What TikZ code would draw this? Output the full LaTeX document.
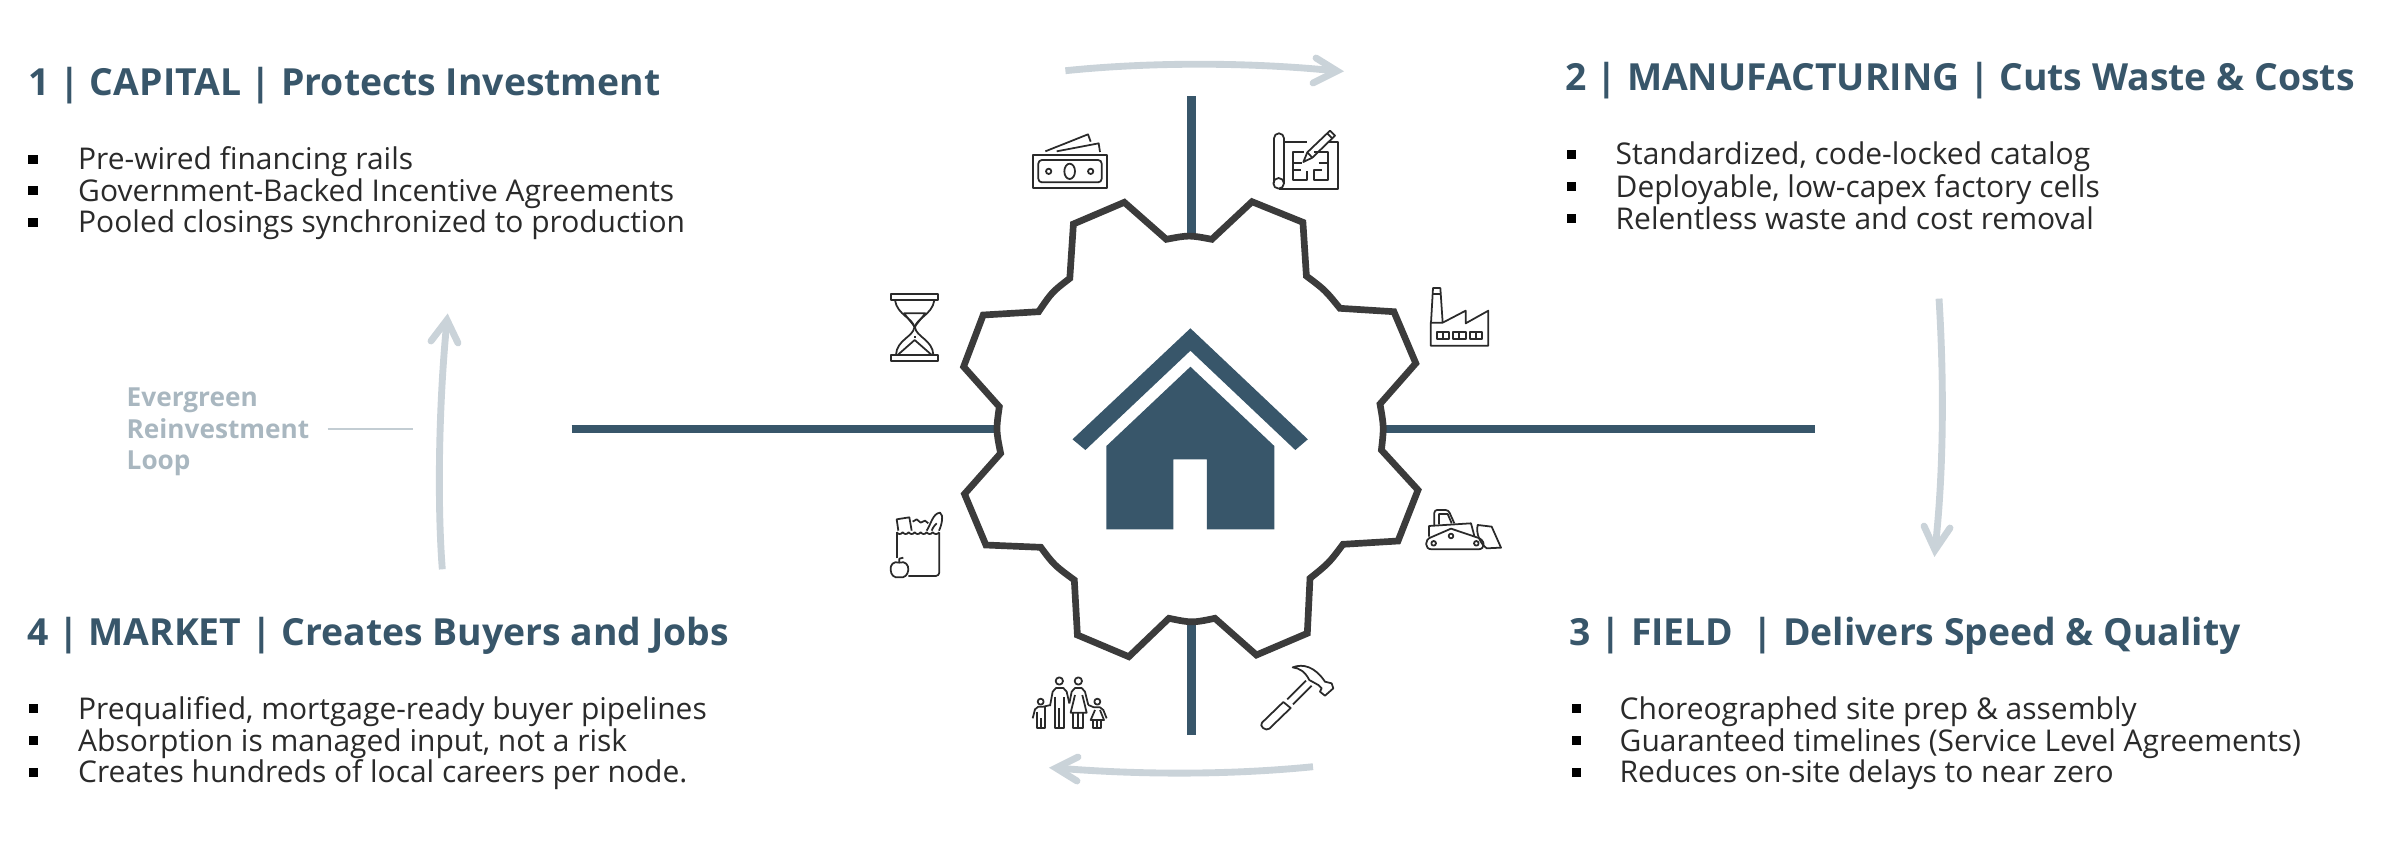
\documentclass[tikz,border=0pt]{standalone}
\usepackage{fontspec}
\setmainfont{Open Sans}
\usepackage{tikz}
\usetikzlibrary{positioning}
\usetikzlibrary{calc}

\definecolor{slate}{HTML}{38566A}
\definecolor{geargray}{HTML}{3B3B3B}
\definecolor{loopgray}{HTML}{CAD3D9}
\definecolor{notegray}{HTML}{A9B7C0}
\definecolor{inkgray}{HTML}{2A2A2A}

\tikzset{
  stagehead/.style={anchor=base west, inner sep=0pt, text=slate, font=\fontsize{10.62pt}{12pt}\selectfont\bfseries},
  stageitem/.style={anchor=base west, inner sep=0pt, text=inkgray, font=\fontsize{8.52pt}{10pt}\selectfont},
  itembox/.style={fill=black, inner sep=0pt, minimum width=0.09cm, minimum height=0.09cm},
  spoke/.style={draw=slate, line width=2.5pt},
  gearline/.style={draw=geargray, line width=1.9pt, fill=white, miter limit=10},
  loopline/.style={draw=loopgray, line width=1.95pt},
  loophead/.style={draw=loopgray, line width=1.95pt, line cap=round, miter limit=10},
  iconline/.style={draw=inkgray, line width=0.5pt, line join=round},
}

\begin{document}
\begin{tikzpicture}[x=0.01cm, y=-0.01cm]
        \useasboundingbox (0,0) rectangle (2400,857);

        % Spokes
        \coordinate (LeftOut) at (571.5,429);
        \coordinate (LeftIn) at (1000,429);
        \coordinate (RightIn) at (1380,429);
        \coordinate (RightOut) at (1815,429);
        \coordinate (TopOut) at (1191.5,96);
        \coordinate (TopIn) at (1191.5,242);
        \coordinate (BotIn) at (1191.5,618);
        \coordinate (BotOut) at (1191.5,735);

        \draw[spoke] (LeftOut) -- (LeftIn);
        \draw[spoke] (RightIn) -- (RightOut);
        \draw[spoke] (TopOut) -- (TopIn);
        \draw[spoke] (BotIn) -- (BotOut);

        % Gear
        \draw[gearline] (999.3,406.7) -- (963.6,366.7) -- (983.2,315) -- (1038.6,311.7)
            .. controls (1052,292) .. (1069.8,278.3) -- (1073.4,224) -- (1124.3,202.3) -- (1166.3,239.3)
            .. controls (1189,235) .. (1211.8,239.3) -- (1252,201.7) -- (1302.9,222.3) -- (1306.4,276)
            .. controls (1325,290) .. (1339.9,308.3) -- (1393.9,311.7) -- (1415.8,363.3) -- (1380,404)
            .. controls (1384,427) .. (1381.4,450) -- (1418,490) -- (1398,541) -- (1343,544.3)
            .. controls (1329,563) .. (1310,578.3) -- (1307.3,633.3) -- (1256.4,655) -- (1214.9,618.3)
            .. controls (1192,623) .. (1168.9,618.3) -- (1128.8,656.7) -- (1077.4,635) -- (1074.3,580)
            .. controls (1054,565) .. (1040.8,547.3) -- (985.9,545) -- (964.5,494) -- (1000.6,453.3)
            .. controls (996,430) .. cycle;

        % House
        \fill[slate] (1190.4,328.3) -- (1307.8,439.3) -- (1295.3,450) -- (1190.4,350.7) -- (1085.4,450) -- (1072.5,439.3) -- cycle;
        \fill[slate] (1190.4,366.7) -- (1274.3,446) -- (1274.3,529.3) -- (1206.9,529.3) -- (1206.9,459.3) -- (1173.4,459.3) -- (1173.4,529.3) -- (1106.4,529.3) -- (1106.4,446) -- cycle;

        % Loop arrows
        \coordinate (TopA) at (1065.4,70.7);
        \coordinate (TopB) at (1337,71);
        \coordinate (RightA) at (1939,298.6);
        \coordinate (RightB) at (1935,550);
        \coordinate (BotA) at (1313,766.7);
        \coordinate (BotB) at (1056,768);
        \coordinate (LeftA) at (442.3,569.3);
        \coordinate (LeftB) at (447,320);

        \draw[loopline] (TopA) .. controls (1150,62) and (1250,62) .. (TopB);
        \draw[loophead] (1316,58) -- (TopB) -- (1313,83);
        \draw[loopline] (RightA) .. controls (1944,380) and (1944,470) .. (RightB);
        \draw[loophead] (1924,526) -- (RightB) -- (1950,528);
        \draw[loopline] (BotA) .. controls (1230,775) and (1140,775) .. (BotB);
        \draw[loophead] (1078,757) -- (BotB) -- (1077,781);
        \draw[loopline] (LeftA) .. controls (437,500) and (439,400) .. (LeftB);
        \draw[loophead] (431,341) -- (LeftB) -- (458,343);

        % Side note
        \node[anchor=west, inner sep=0pt, align=left, text=notegray, font=\fontsize{7.45pt}{8.96pt}\selectfont\bfseries] (loopnote) at (126,432) {Evergreen\\Reinvestment\\Loop};
        \coordinate (NoteA) at (327.7,429);
        \coordinate (NoteB) at (412.7,429);
        \draw[draw=notegray!70, line width=0.6pt] (NoteA) -- (NoteB);

        % Stage 1
        \node[stagehead] (head1) at (28,95) {1 | CAPITAL | Protects Investment};
        \node[itembox] (mark11) at (33,159) {};
        \node[itembox] (mark12) at (33,190.7) {};
        \node[itembox] (mark13) at (33,222.3) {};
        \node[stageitem] (item11) at (77.5,169.3) {Pre-wired financing rails};
        \node[stageitem] (item12) at (77.5,201) {Government-Backed Incentive Agreements};
        \node[stageitem] (item13) at (77.5,232.7) {Pooled closings synchronized to production};

        % Stage 2
        \node[stagehead] (head2) at (1565,90.7) {2 | MANUFACTURING | Cuts Waste \& Costs};
        \node[itembox] (mark21) at (1571.5,154.5) {};
        \node[itembox] (mark22) at (1571.5,186.6) {};
        \node[itembox] (mark23) at (1571.5,218.6) {};
        \node[stageitem] (item21) at (1615,164.5) {Standardized, code-locked catalog};
        \node[stageitem] (item22) at (1615,197) {Deployable, low-capex factory cells};
        \node[stageitem] (item23) at (1615,229) {Relentless waste and cost removal};

        % Stage 3
        \node[stagehead] (head3) at (1569,645) {3 | FIELD\ \ | Delivers Speed \& Quality};
        \node[itembox] (mark31) at (1576,708) {};
        \node[itembox] (mark32) at (1576,740.7) {};
        \node[itembox] (mark33) at (1576,772) {};
        \node[stageitem] (item31) at (1619,719) {Choreographed site prep \& assembly};
        \node[stageitem] (item32) at (1619,751) {Guaranteed timelines (Service Level Agreements)};
        \node[stageitem] (item33) at (1619,782.7) {Reduces on-site delays to near zero};

        % Stage 4
        \node[stagehead] (head4) at (26.5,645) {4 | MARKET | Creates Buyers and Jobs};
        \node[itembox] (mark41) at (33.5,708) {};
        \node[itembox] (mark42) at (33.5,740.7) {};
        \node[itembox] (mark43) at (33.5,772) {};
        \node[stageitem] (item41) at (77.5,719) {Prequalified, mortgage-ready buyer pipelines};
        \node[stageitem] (item42) at (77.5,751) {Absorption is managed input, not a risk};
        \node[stageitem] (item43) at (77.5,782.7) {Creates hundreds of local careers per node.};

        % Money and blueprint
        \begin{scope}[shift={(1020,120)}, scale=0.3333, iconline]
        \draw (40,104) rectangle (260,203);
        \draw[rounded corners=1pt] (55,120) rectangle (245,187);
        \draw (149,154) ellipse [x radius=16, y radius=23];
        \draw (86,154) circle [radius=8];
        \draw (212,154) circle [radius=8];
        \draw (110,94) -- (236,70) -- (240,96);
        \draw (76,94) -- (204,43) -- (212,65);

        \draw[rounded corners=1.4pt] (762,190) -- (762,40) -- (792,40) -- (792,190);
        \draw (776,190) circle [radius=16];
        \draw (792,66) -- (862,66);
        \draw (925,66) -- (953,66) -- (953,207) -- (776,207);
        \draw (850,126) -- (862,97) -- (930,32) -- (945,47) -- (877,113) -- cycle;
        \draw (922,40) -- (937,55);
        \draw (862,97) -- (877,113);
        \draw (852,97) -- (818,97) -- (818,180) -- (862,180) -- (862,152);
        \draw (818,128) -- (846,128);
        \draw (818,150) -- (842,150);
        \draw (882,97) -- (925,97) -- (925,180) -- (882,180) -- (882,150) -- (905,150);
        \draw (896,128) -- (925,128);
        \end{scope}

        % Hourglass and grocery bag
        \begin{scope}[shift={(880,280)}, scale=0.3333, iconline]
        \draw (34,43) rectangle (174,61);
        \draw (34,224) rectangle (174,242);
        \draw (45,61) .. controls (52,105) and (100,115) .. (103,142) .. controls (100,170) and (50,180) .. (48,224);
        \draw (163,61) .. controls (156,105) and (108,115) .. (105,142) .. controls (108,170) and (158,180) .. (160,224);
        \draw (72,100) -- (136,100) -- (104,140) -- cycle;
        \draw (54,224) -- (104,180) -- (154,224);
        \draw[dotted] (104,142) -- (104,180);

        \draw (50,835) -- (50,757);
        \draw (50,757) .. controls (56,764) and (62,764) .. (68,757) .. controls (74,764) and (80,764) .. (86,757)
            .. controls (92,764) and (98,764) .. (104,757) .. controls (110,764) and (116,764) .. (122,757)
            .. controls (128,764) and (134,764) .. (140,757) .. controls (146,764) and (152,764) .. (158,757)
            .. controls (164,764) and (172,764) .. (178,757);
        \draw[rounded corners=1pt] (178,757) -- (178,888) -- (85,888);
        \draw (55,752) -- (50,718) -- (88,712) -- (95,752);
        \draw (98,725) -- (110,718) -- (122,728) -- (135,722) -- (145,730);
        \draw (140,752) .. controls (152,735) and (158,700) .. (180,698) .. controls (192,705) and (185,735) .. (177,752);
        \draw (155,752) .. controls (160,740) and (165,735) .. (170,730);
        \draw (58,848) .. controls (40,842) and (30,855) .. (32,870) .. controls (33,885) and (42,895) .. (58,892)
            .. controls (74,895) and (83,885) .. (85,870) .. controls (86,855) and (76,842) .. (58,848);
        \draw (58,848) -- (58,836) -- (70,833);
        \end{scope}

        % Factory and bulldozer
        \begin{scope}[shift={(1415,280)}, scale=0.3333, iconline]
        \draw (48,128) -- (54,24) -- (76,24) -- (83,128);
        \draw (53,42) -- (77,42);
        \draw (47,128) -- (47,197) -- (220,197) -- (220,92) -- (152,130) -- (152,92) -- (83,128) -- cycle;
        \draw (65,155) rectangle (102,177);
        \draw (115,155) rectangle (152,177);
        \draw (165,155) rectangle (202,177);
        \draw (83,155) -- (83,177);
        \draw (133,155) -- (133,177);
        \draw (183,155) -- (183,177);

        \draw (48,772) -- (108,746) -- (185,772) .. controls (212,778) and (212,808) .. (190,808) -- (50,808)
            .. controls (28,808) and (28,778) .. cycle;
        \draw (56,790) circle [radius=7];
        \draw (108,768) circle [radius=7];
        \draw (184,790) circle [radius=7];
        \draw (42,770) -- (42,738) -- (168,730) -- (178,768);
        \draw[rounded corners=0.8pt] (58,735) -- (58,690) -- (100,690) -- (118,730);
        \draw (72,733) -- (72,702) -- (98,702) -- (110,730);
        \draw (188,735) -- (230,740) -- (258,803) -- (215,805) .. controls (195,790) and (182,760) .. cycle;
        \end{scope}

        % Family and hammer
        \begin{scope}[shift={(1020,650)}, scale=0.3333, iconline]
        \draw (118,93) circle [radius=11];
        \draw (90,168) -- (98,125) -- (108,114) -- (130,114) -- (140,125) -- (148,160);
        \draw (105,140) -- (105,235) -- (132,235) -- (132,140);
        \draw (118,175) -- (118,235);
        \draw (175,93) circle [radius=11];
        \draw (148,160) -- (155,125) -- (165,114) -- (185,114) -- (195,125) -- (205,165);
        \draw (165,135) -- (152,188) -- (200,188) -- (187,135);
        \draw (160,188) -- (160,235) -- (190,235) -- (190,188);
        \draw (175,188) -- (175,235);
        \draw (62,155) circle [radius=9];
        \draw (38,205) -- (45,178) -- (55,170) -- (70,170) -- (92,165);
        \draw (50,185) -- (50,235) -- (74,235) -- (74,172);
        \draw (62,205) -- (62,235);
        \draw (232,155) circle [radius=9];
        \draw (205,165) -- (222,172) -- (240,172) -- (250,180) -- (260,205);
        \draw (225,180) -- (212,210) -- (252,210) -- (240,180);
        \draw (220,210) -- (220,235) -- (243,235) -- (243,210);
        \draw (232,210) -- (232,235);

        \draw (818,52) .. controls (850,40) and (885,50) .. (915,95) -- (935,100) -- (940,115) -- (915,137)
            -- (900,125) -- (905,115) -- (895,105) -- (868,90) .. controls (855,65) and (840,55) .. cycle;
        \draw (858,92) -- (802,148);
        \draw (875,107) -- (819,163);
        \draw (790,156) -- (812,174) -- (748,236) .. controls (738,245) and (716,228) .. (726,218) -- cycle;
        \end{scope}

\end{tikzpicture}
\end{document}
